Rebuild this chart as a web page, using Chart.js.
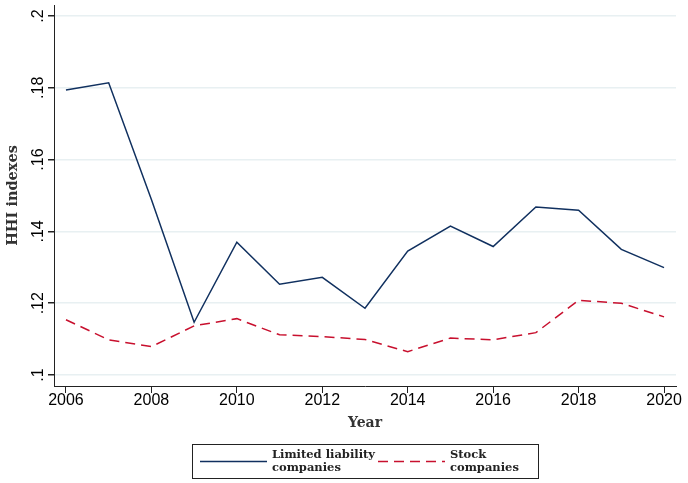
<!DOCTYPE html>
<html>
<head>
<meta charset="utf-8">
<script src="https://cdn.jsdelivr.net/npm/chart.js@4.4.1/dist/chart.umd.min.js"></script>
<style>
  html, body { margin: 0; padding: 0; background: #fff; }
  canvas { display: block; }
</style>
</head>
<body>
<canvas id="hhiChart" width="688" height="483"></canvas>
<script>
// data
const years = [2006, 2007, 2008, 2009, 2010, 2011, 2012, 2013, 2014, 2015, 2016, 2017, 2018, 2019, 2020];
const llcValues = [0.1794, 0.1814, 0.1489, 0.1147, 0.1370, 0.1253, 0.1272, 0.1186, 0.1345, 0.1415, 0.1358, 0.1468, 0.1459, 0.1350, 0.1299];
const stockValues = [0.1154, 0.1098, 0.1079, 0.1137, 0.1157, 0.1112, 0.1107, 0.1099, 0.1065, 0.1103, 0.1098, 0.1118, 0.1208, 0.1200, 0.1162];
const xTicks = [2006, 2008, 2010, 2012, 2014, 2016, 2018, 2020];
const yTicks = [0.10, 0.12, 0.14, 0.16, 0.18, 0.20];
const yTickLabels = ['.1', '.12', '.14', '.16', '.18', '.2'];
const seriesLabels = ['Limited liability\ncompanies', 'Stock\ncompanies'];

const serif = '"DejaVu Serif", "Liberation Serif", serif';
const sans = '"Liberation Sans", Arial, sans-serif';

// y tick labels are vertical in the original, so draw them rotated
const rotatedYLabels = {
  id: 'rotatedYLabels',
  afterDraw(chart) {
    const ctx = chart.ctx;
    const y = chart.scales.y;
    ctx.save();
    ctx.fillStyle = '#000';
    ctx.font = '16px ' + sans;
    ctx.textAlign = 'center';
    ctx.textBaseline = 'middle';
    yTicks.forEach((v, i) => {
      ctx.save();
      ctx.translate(39, y.getPixelForValue(v));
      ctx.rotate(-Math.PI / 2);
      ctx.fillText(yTickLabels[i], 0, 0);
      ctx.restore();
    });
    ctx.restore();
  }
};

// boxed legend with two-line labels, as in the Stata output
const boxLegend = {
  id: 'boxLegend',
  afterDraw(chart) {
    const ctx = chart.ctx;
    const box = { x: 192.5, y: 444.5, w: 346, h: 34 };
    ctx.save();
    ctx.strokeStyle = '#222';
    ctx.lineWidth = 1;
    ctx.strokeRect(box.x, box.y, box.w, box.h);
    const starts = [200, 378];
    chart.data.datasets.forEach((ds, i) => {
      const x0 = starts[i];
      const ly = 461.5;
      ctx.beginPath();
      ctx.strokeStyle = ds.borderColor;
      ctx.lineWidth = ds.borderWidth;
      ctx.setLineDash(ds.borderDash || []);
      ctx.moveTo(x0, ly);
      ctx.lineTo(x0 + 67, ly);
      ctx.stroke();
      ctx.setLineDash([]);
      ctx.fillStyle = '#222';
      ctx.font = 'bold 11.5px ' + serif;
      ctx.textAlign = 'left';
      ctx.textBaseline = 'middle';
      ds.label.split('\n').forEach((line, j) => {
        ctx.fillText(line, x0 + 72, 455 + j * 13);
      });
    });
    ctx.restore();
  }
};

new Chart(document.getElementById('hhiChart'), {
  type: 'line',
  data: {
    datasets: [{
      label: seriesLabels[0],
      data: years.map((yr, i) => ({ x: yr, y: llcValues[i] })),
      borderColor: '#10305f',
      borderWidth: 1.5,
      pointRadius: 0,
      tension: 0
    }, {
      label: seriesLabels[1],
      data: years.map((yr, i) => ({ x: yr, y: stockValues[i] })),
      borderColor: '#c8102e',
      borderWidth: 1.5,
      borderDash: [10, 6],
      pointRadius: 0,
      tension: 0
    }]
  },
  options: {
    responsive: false,
    animation: false,
    layout: { padding: { left: 0, top: 5, right: 12, bottom: 51 } },
    plugins: {
      legend: { display: false },
      tooltip: { enabled: false }
    },
    scales: {
      x: {
        type: 'linear',
        min: 2005.72,
        max: 2020.28,
        afterBuildTicks: (scale) => { scale.ticks = xTicks.map(v => ({ value: v })); },
        afterFit: (scale) => { scale.height = 46; },
        ticks: {
          color: '#000',
          padding: 0,
          maxRotation: 0,
          font: { family: sans, size: 16, lineHeight: 1 },
          callback: (v) => String(v)
        },
        grid: { drawOnChartArea: false, drawTicks: true, tickLength: 7, tickColor: '#222' },
        border: { display: true, color: '#222', width: 1 },
        title: {
          display: true,
          text: 'Year',
          color: '#333',
          padding: { top: 0, bottom: 0 },
          font: { family: serif, size: 14, weight: 'bold' }
        }
      },
      y: {
        type: 'linear',
        min: 0.09694,
        max: 0.20306,
        afterBuildTicks: (scale) => { scale.ticks = yTicks.map(v => ({ value: v })); },
        afterFit: (scale) => { scale.width = 54; },
        ticks: { display: false },
        grid: { color: '#e8f0f2', lineWidth: 1.5, drawTicks: true, tickLength: 6, tickColor: '#222' },
        border: { display: true, color: '#222', width: 1 },
        title: {
          display: true,
          text: 'HHI indexes',
          color: '#333',
          padding: { top: 5, bottom: 0 },
          font: { family: serif, size: 14.5, weight: 'bold' }
        }
      }
    }
  },
  plugins: [rotatedYLabels, boxLegend]
});
</script>
</body>
</html>
